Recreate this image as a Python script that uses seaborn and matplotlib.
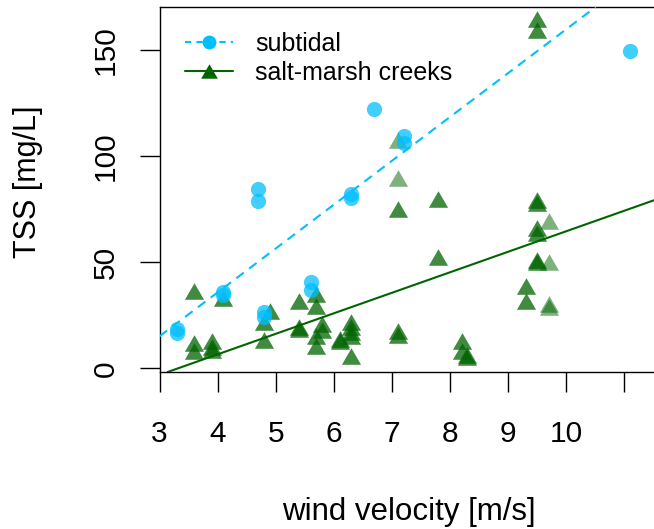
import matplotlib
matplotlib.use("Agg")
import matplotlib.pyplot as plt
from matplotlib.lines import Line2D
import numpy as np
import pandas as pd
import seaborn as sns

# Subtidal stations: wind velocity [m/s] and total suspended solids [mg/L]
subtidal_wind = [3.3, 3.3, 4.1, 4.1, 4.7, 4.7, 4.8, 4.8, 5.6, 5.6,
                 6.3, 6.3, 6.7, 7.2, 7.2, 11.1]
subtidal_tss = [18.5, 16.5, 36, 34.5, 84.5, 79, 26.5, 24, 40.5, 37,
                82, 80.5, 122, 109.5, 106, 149.5]

# Salt-marsh creek stations (batch 2 samples are shown lighter)
creek_wind = [3.6, 3.6, 3.6, 3.9, 3.9, 3.9, 4.1,
              4.9, 4.8, 4.8, 5.4, 5.4, 5.4,
              5.7, 5.7, 5.8, 5.8, 5.7, 5.7,
              6.1, 6.1, 6.3, 6.3, 6.3, 6.3, 6.3,
              7.1, 7.1, 7.1, 7.1, 7.1,
              7.8, 7.8, 8.2, 8.2, 8.3, 8.3,
              9.3, 9.3, 9.5, 9.5,
              9.5, 9.5, 9.5, 9.5, 9.5, 9.5,
              9.7, 9.7, 9.7, 9.7]
creek_tss = [36.5, 12, 8, 13, 10, 8.5, 33,
             27, 22, 13.5, 31.5, 19.5, 18.5,
             35, 29.5, 21, 18, 15, 10.5,
             14, 13, 22, 19.5, 17, 15, 6,
             17.5, 15.5, 107.5, 89.5, 75,
             80, 52.5, 13, 8, 5.5, 6.5,
             39, 31.5, 164.5, 159.5,
             79.5, 78, 66, 64, 51, 50,
             69.5, 50, 30.5, 29]
creek_batch = [1, 1, 1, 1, 1, 1, 1,
               1, 1, 1, 1, 1, 1,
               1, 1, 1, 1, 1, 1,
               1, 1, 1, 1, 1, 1, 1,
               1, 1, 2, 2, 1,
               1, 1, 1, 1, 1, 1,
               1, 1, 1, 1,
               1, 1, 1, 1, 1, 1,
               2, 2, 2, 2]

# Linear fits TSS = intercept + slope * wind
subtidal_fit = (-46.9, 20.67)
creek_fit = (-32.1, 9.67)

x_ticks = [3, 4, 5, 6, 7, 8, 9, 10, 11]
x_tick_labels = ["3", "4", "5", "6", "7", "8", "9", "10", ""]
y_ticks = [0, 50, 100, 150]

sns.set_style("white")
plt.rcParams["font.family"] = ["Liberation Sans", "DejaVu Sans"]
plt.rcParams["text.color"] = "black"

sub_df = pd.DataFrame({"wind": subtidal_wind, "tss": subtidal_tss})
creek_df = pd.DataFrame({"wind": creek_wind, "tss": creek_tss, "batch": creek_batch})

W, H = 654, 529
fig = plt.figure(figsize=(W / 100, H / 100), dpi=100)
left_px, right_px, top_px, bottom_px = 159.5, 658.0, 7.0, 372.0
ax = fig.add_axes([left_px / W, 1 - bottom_px / H,
                   (right_px - left_px) / W, (bottom_px - top_px) / H])

sub_col = "#00bfff"
creek_col = "#006400"
tri = [(0, 0.866), (-1, -0.866), (1, -0.866)]

for batch, alpha in [(1, 0.75), (2, 0.5)]:
    sns.scatterplot(data=creek_df[creek_df["batch"] == batch], x="wind", y="tss",
                    ax=ax, marker=tri, s=190, color=creek_col, alpha=alpha,
                    linewidth=0, legend=False, zorder=2)
sns.scatterplot(data=sub_df, x="wind", y="tss", ax=ax, marker="o", s=120,
                color=sub_col, alpha=0.75, linewidth=0, legend=False, zorder=3)

ax.axline((0, subtidal_fit[0]), slope=subtidal_fit[1], color=sub_col,
          lw=1.5, ls=(0, (4.5, 3.2)), zorder=4)
ax.axline((0, creek_fit[0]), slope=creek_fit[1], color=creek_col,
          lw=1.5, zorder=4)

ax.set_xlim(3, 3 + (right_px - left_px) / 58.1)
ax.set_ylim(-1.74, 170.3)
ax.set_xticks(x_ticks)
ax.set_xticklabels(x_tick_labels)
ax.set_yticks(y_ticks)
ax.set_yticklabels([str(v) for v in y_ticks])

for sp in ax.spines.values():
    sp.set_visible(True)
    sp.set_color("black")
    sp.set_linewidth(1.0)

ax.tick_params(axis="both", direction="out", length=14.4, width=1.0,
               color="black", labelsize=21.5, labelcolor="black",
               bottom=True, left=True, top=False, right=False)
ax.tick_params(axis="x", pad=20)
ax.tick_params(axis="y", pad=24)
for lab in ax.get_yticklabels():
    lab.set_rotation(90)
    lab.set_ha("center")
    lab.set_va("center")

ax.set_xlabel("wind velocity [m/s]", fontsize=22.5, color="black")
ax.set_ylabel("TSS [mg/L]", fontsize=22, color="black")
ax.xaxis.set_label_coords((409 - left_px) / (right_px - left_px),
                          (bottom_px - 512) / (bottom_px - top_px))
ax.xaxis.label.set_va("center")
ax.yaxis.set_label_coords((28 - left_px) / (right_px - left_px),
                          (bottom_px - 182) / (bottom_px - top_px))
ax.yaxis.label.set_va("center")

handles = [
    Line2D([], [], color=sub_col, ls=(0, (3.0, 2.5)), lw=1.5, marker="o",
           markersize=10, markeredgewidth=0),
    Line2D([], [], color=creek_col, ls="-", lw=1.5, marker=tri,
           markersize=12, markeredgewidth=0),
]
leg = ax.legend(handles, ["subtidal", "salt-marsh creeks"], loc="upper left",
                bbox_to_anchor=(0.007, 0.994), frameon=False, fontsize=18,
                handlelength=1.92, handletextpad=0.88, labelspacing=0.22,
                borderpad=0.4)
for t in leg.get_texts():
    t.set_color("black")

fig.savefig("out.png", dpi=100)
